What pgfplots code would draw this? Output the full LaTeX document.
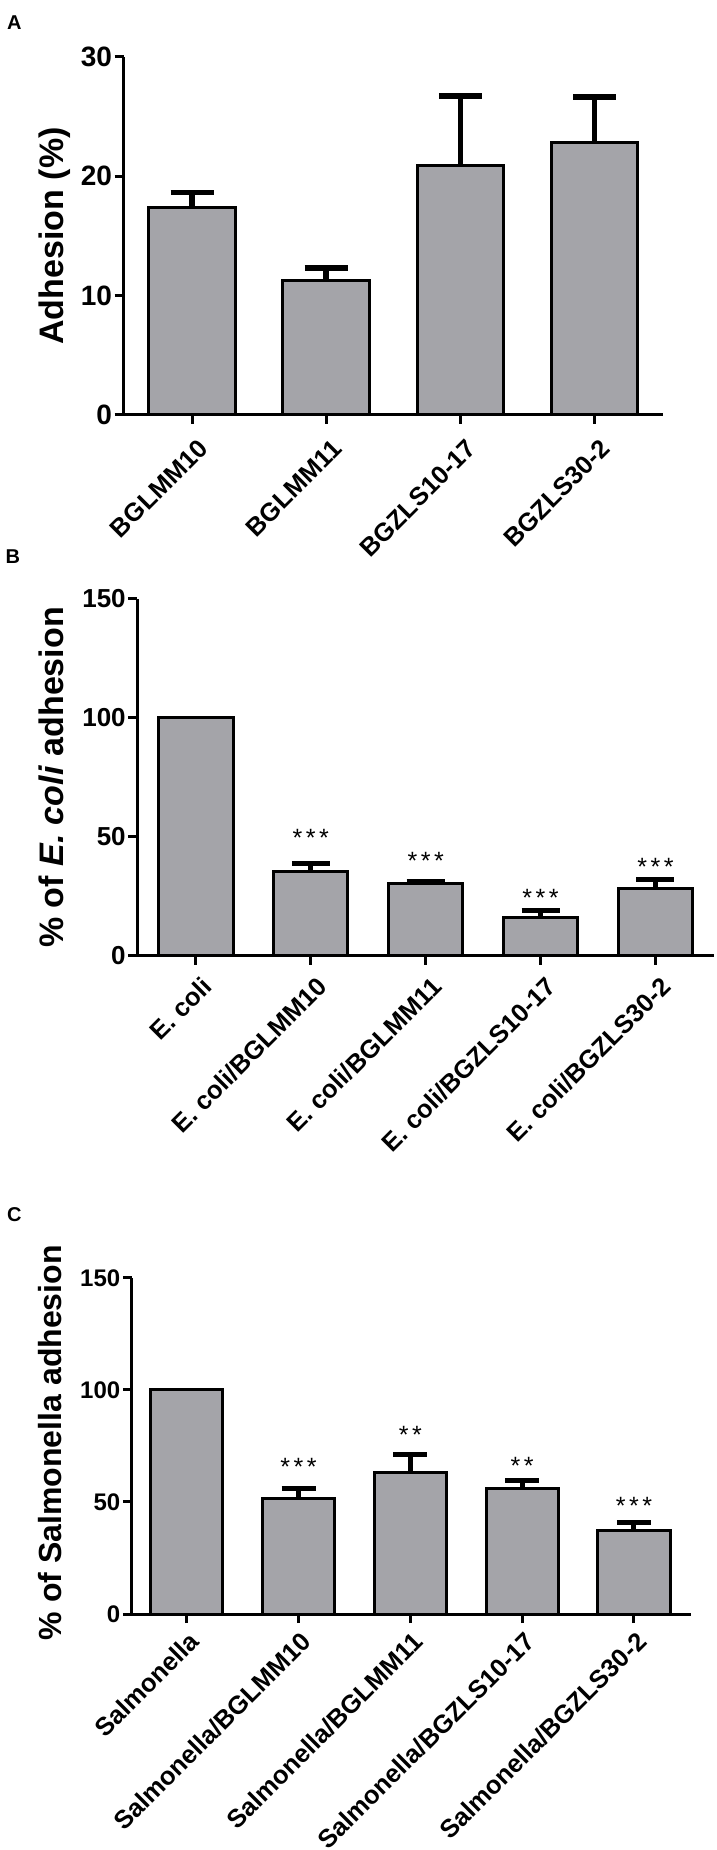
\documentclass[border=0pt]{standalone}
\usepackage{fontspec}
\setmainfont{Liberation Sans}
\usepackage{pgfplots}
\pgfplotsset{compat=1.18}
\definecolor{barfill}{RGB}{164,164,169}
\newcommand\sthree{*\hspace{3.5pt}*\hspace{3.5pt}*}
\newcommand\stwo{*\hspace{3.5pt}*}
\pgfplotsset{
  panel/.style={
    scale only axis,
    axis lines=left,
    axis line style={-, line width=3pt, black},
    tick style={line width=3pt, black},
    major tick length=9pt,
    tick align=outside,
    minor tick num=0,
    clip=false,
    ymin=0,
    enlargelimits=false,
    /pgf/number format/assume math mode=true,
    yticklabel style={inner sep=0pt, xshift=-2.5pt},
  },
  xlab/.style 2 args={xticklabel style={xshift=#1, yshift=#2, rotate=45, anchor=north east, inner sep=0pt, font=\bfseries\fontsize{25.5}{25.5}\selectfont}},
  mainbar/.style={ybar, bar shift=0pt, bar width=0.645, fill=barfill, draw=black, line width=3pt},
  errb/.style 2 args={error bars/.cd, y dir=plus, y explicit, error mark=-,
    error bar style={line width=#1, black},
    error mark options={rotate=90, line width=#1, mark size=#2, black}},
  stars/.style={draw=none, mark=none, nodes near coords, point meta=explicit symbolic,
    nodes near coords style={anchor=base, inner sep=0pt, font=\fontsize{25}{25}\selectfont}},
}
\begin{document}
\begin{tikzpicture}[x=1pt,y=1pt]
\path[use as bounding box] (0,0) rectangle (716,1850);
\node[anchor=base west, inner sep=0pt, font=\bfseries\fontsize{20}{20}\selectfont] at (7,1820.7) {A};
\node[anchor=base west, inner sep=0pt, font=\bfseries\fontsize{20}{20}\selectfont] at (5.5,1286.7) {B};
\node[anchor=base west, inner sep=0pt, font=\bfseries\fontsize{20}{20}\selectfont] at (7,628.2) {C};

% Panel A
\begin{axis}[panel, xlab={4.5pt}{-14pt}, at={(123.6pt,1435pt)}, anchor=south west,
  width=539.4pt, height=358pt, xmin=-0.51, xmax=3.51, ymax=30,
  ytick={0,10,20,30}, xtick={0,1,2,3},
  xticklabels={BGLMM10,BGLMM11,BGZLS10-17,BGZLS30-2},
  yticklabel style={font=\bfseries\fontsize{28}{28}\selectfont},
  ylabel={Adhesion (\%)},
  ylabel style={at={(axis description cs:-0.1105,0.5)}, anchor=base, inner sep=0pt, font=\bfseries\fontsize{34}{34}\selectfont}]
\addplot[mainbar, errb={5.5pt}{21.5pt}]
  coordinates {(0,17.4) +- (0,1.23) (1,11.23) +- (0,1.07) (2,20.9) +- (0,5.84) (3,22.83) +- (0,3.8)};
\end{axis}

% Panel B
\begin{axis}[panel, xlab={4.4pt}{-10pt}, at={(137.4pt,894pt)}, anchor=south west,
  width=576.6pt, height=357pt, xmin=-0.51, xmax=4.51, ymax=150,
  ytick={0,50,100,150}, xtick={0,1,2,3,4},
  xticklabels={E. coli,E. coli/BGLMM10,E. coli/BGLMM11,E. coli/BGZLS10-17,E. coli/BGZLS30-2},
  yticklabel style={font=\bfseries\fontsize{26}{26}\selectfont},
  ylabel={\% of \textit{E. coli} adhesion},
  ylabel style={at={(axis description cs:-0.1273,0.5)}, anchor=base, inner sep=0pt, font=\bfseries\fontsize{34}{34}\selectfont}]
\addplot[mainbar] coordinates {(0,100)};
\addplot[mainbar, errb={5.3pt}{19pt}]
  coordinates {(1,35.6) +- (0,3.2) (2,30.6) +- (0,0.8) (3,16.1) +- (0,2.9) (4,28.3) +- (0,3.9)};
\addplot[stars] coordinates {(1,45.9) [\sthree] (2,36.2) [\sthree] (3,20.9) [\sthree] (4,33.8) [\sthree]};
\end{axis}

% Panel C
\begin{axis}[panel, xlab={1pt}{-7pt}, at={(131.9pt,236pt)}, anchor=south west,
  width=559.1pt, height=336pt, xmin=-0.49, xmax=4.51, ymax=150,
  ytick={0,50,100,150}, xtick={0,1,2,3,4},
  xticklabels={Salmonella,Salmonella/BGLMM10,Salmonella/BGLMM11,Salmonella/BGZLS10-17,Salmonella/BGZLS30-2},
  yticklabel style={font=\bfseries\fontsize{24}{24}\selectfont},
  ylabel={\% of Salmonella adhesion},
  ylabel style={at={(axis description cs:-0.1268,0.51)}, anchor=base, inner sep=0pt, font=\bfseries\fontsize{32}{32}\selectfont}]
\addplot[mainbar] coordinates {(0,100)};
\addplot[mainbar, errb={5pt}{17pt}]
  coordinates {(1,51.5) +- (0,4.5) (2,63.2) +- (0,8.1) (3,56.0) +- (0,3.7) (4,37.3) +- (0,3.5)};
\addplot[stars] coordinates {(1,61.7) [\sthree] (2,76.1) [\stwo] (3,62.1) [\stwo] (4,44.2) [\sthree]};
\end{axis}
\end{tikzpicture}
\end{document}
